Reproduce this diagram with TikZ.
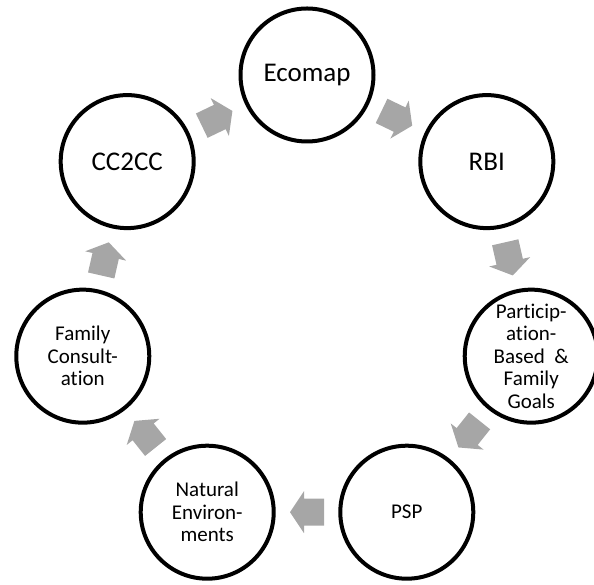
\documentclass[tikz,border=0pt]{standalone}
\usepackage{fontspec}
\setmainfont{Carlito}[Ligatures=NoCommon]
\usetikzlibrary{decorations.markings,calc}
\definecolor{arrowgray}{HTML}{A6A6A6}
\tikzset{
  stage/.style={circle, draw=black, line width=4pt, minimum size=133pt, inner sep=0pt, align=center, fill=white},
  bigtext/.style={font=\fontsize{27}{30}\selectfont},
  smalltext/.style={font=\fontsize{21}{22.5}\selectfont},
  flow/.style={postaction={decorate}, decoration={markings,
    mark=at position 0.5 with {\fill[arrowgray] (-17pt,-13.5pt) -- (3pt,-13.5pt) -- (3pt,-21pt)
      -- (17pt,0pt) -- (3pt,21pt) -- (3pt,13.5pt) -- (-17pt,13.5pt) -- cycle;}}}
}
\begin{document}
\begin{tikzpicture}[x=1pt,y=1pt]
\useasboundingbox (0,0) rectangle (594,585);
\clip (0,0) rectangle (594,585);
\coordinate (c) at (307,280);
\node[stage,bigtext] (ecomap) at ($(c)+(90:230)$) {Ecomap};
\node[stage,bigtext] (rbi) at ($(c)+(38.571:230)$) {RBI};
\node[stage,smalltext] (goals) at ($(c)+(-12.857:230)$) {Particip-\\ation-\\Based~~\&\\Family\\Goals};
\node[stage,smalltext] (psp) at ($(c)+(-64.286:230)$) {PSP};
\node[stage,smalltext] (natural) at ($(c)+(-115.714:230)$) {Natural\\Environ-\\ments};
\node[stage,smalltext] (family) at ($(c)+(-167.143:230)$) {Family\\Consult-\\ation};
\node[stage,bigtext] (cc2cc) at ($(c)+(141.429:230)$) {CC2CC};
\path[flow] (ecomap) -- (rbi);
\path[flow] (rbi) -- (goals);
\path[flow] (goals) -- (psp);
\path[flow] (psp) -- (natural);
\path[flow] (natural) -- (family);
\path[flow] (family) -- (cc2cc);
\path[flow] (cc2cc) -- (ecomap);
\end{tikzpicture}
\end{document}
